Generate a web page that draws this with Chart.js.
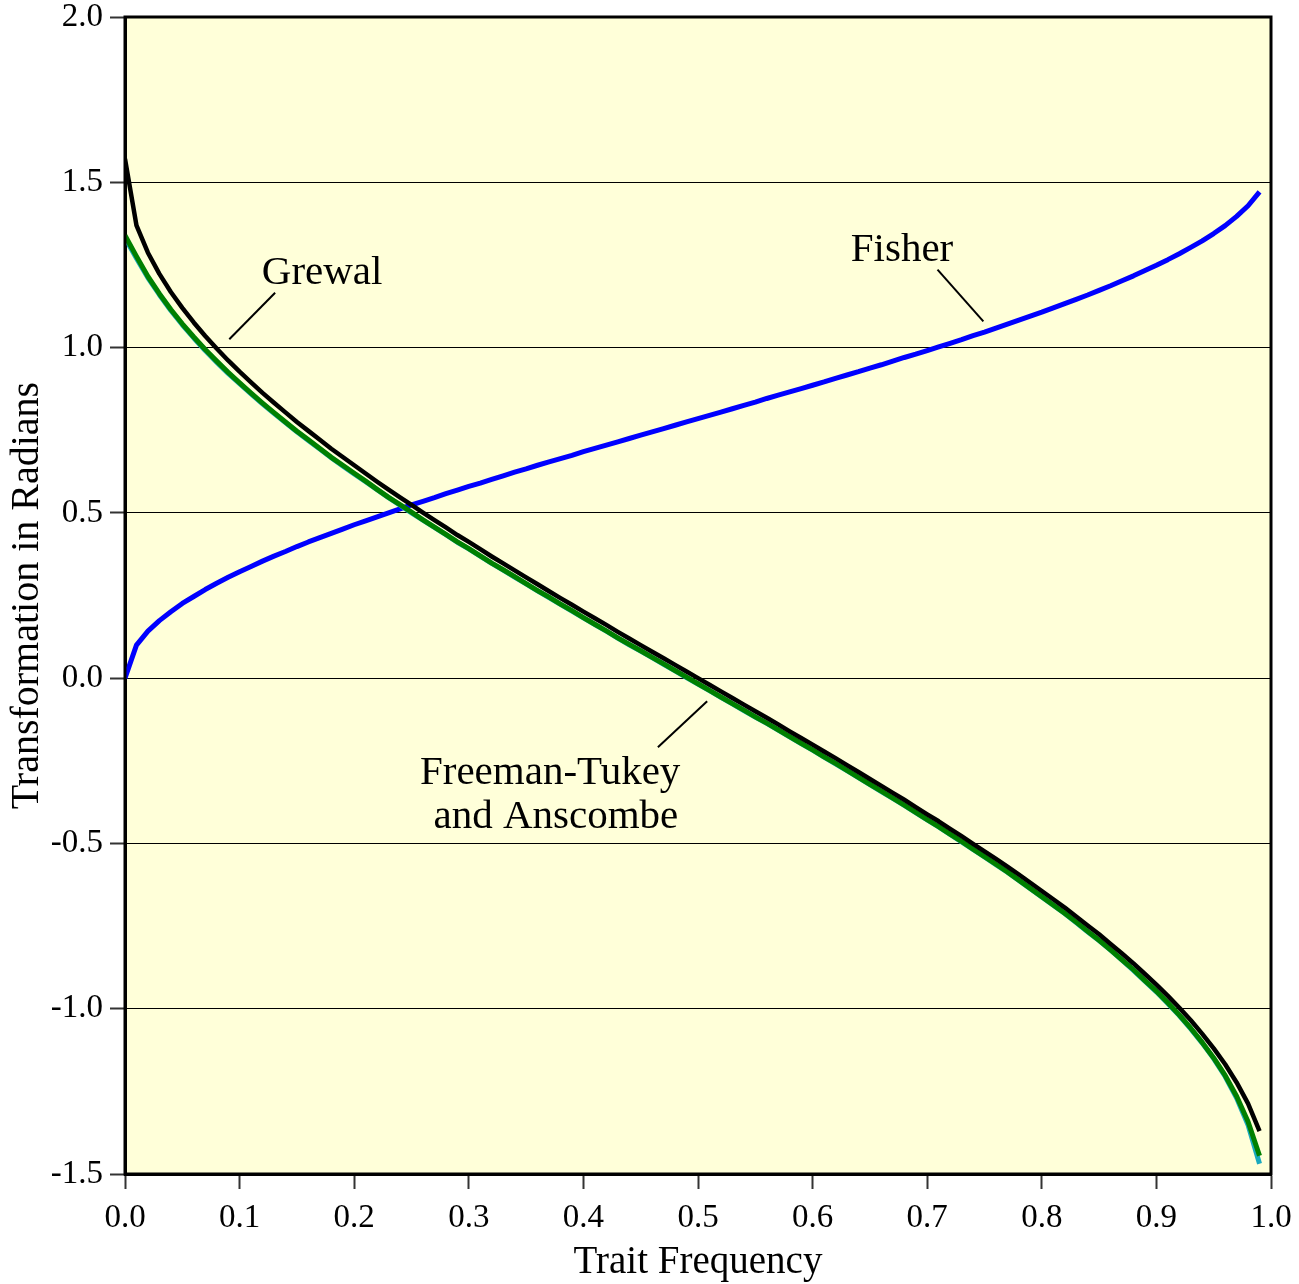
<!DOCTYPE html>
<html>
<head>
<meta charset="utf-8">
<title>Arcsine transformations of trait frequency</title>
<script src="https://cdn.jsdelivr.net/npm/chart.js@4.4.1/dist/chart.umd.min.js"></script>
<style>
  html, body { margin: 0; padding: 0; background: #ffffff; }
  canvas { display: block; }
</style>
</head>
<body>
<canvas id="chart" width="1299" height="1284"></canvas>
<script>
// Trait frequency (p) at which each transformation is evaluated
const frequency = [
  0.00, 0.01, 0.02, 0.03, 0.04, 0.05, 0.06, 0.07, 0.08, 0.09,
  0.10, 0.11, 0.12, 0.13, 0.14, 0.15, 0.16, 0.17, 0.18, 0.19,
  0.20, 0.21, 0.22, 0.23, 0.24, 0.25, 0.26, 0.27, 0.28, 0.29,
  0.30, 0.31, 0.32, 0.33, 0.34, 0.35, 0.36, 0.37, 0.38, 0.39,
  0.40, 0.41, 0.42, 0.43, 0.44, 0.45, 0.46, 0.47, 0.48, 0.49,
  0.50, 0.51, 0.52, 0.53, 0.54, 0.55, 0.56, 0.57, 0.58, 0.59,
  0.60, 0.61, 0.62, 0.63, 0.64, 0.65, 0.66, 0.67, 0.68, 0.69,
  0.70, 0.71, 0.72, 0.73, 0.74, 0.75, 0.76, 0.77, 0.78, 0.79,
  0.80, 0.81, 0.82, 0.83, 0.84, 0.85, 0.86, 0.87, 0.88, 0.89,
  0.90, 0.91, 0.92, 0.93, 0.94, 0.95, 0.96, 0.97, 0.98, 0.99
];

// Fisher angular transformation (radians)
const fisher = [
  0.000, 0.100, 0.142, 0.174, 0.201, 0.226, 0.247, 0.268, 0.287, 0.305,
  0.322, 0.338, 0.354, 0.369, 0.383, 0.398, 0.412, 0.425, 0.438, 0.451,
  0.464, 0.476, 0.488, 0.500, 0.512, 0.524, 0.535, 0.546, 0.558, 0.569,
  0.580, 0.590, 0.601, 0.612, 0.623, 0.633, 0.644, 0.654, 0.664, 0.674,
  0.685, 0.695, 0.705, 0.715, 0.725, 0.735, 0.745, 0.755, 0.765, 0.775,
  0.785, 0.795, 0.805, 0.815, 0.825, 0.835, 0.846, 0.856, 0.866, 0.876,
  0.886, 0.896, 0.907, 0.917, 0.927, 0.938, 0.948, 0.959, 0.970, 0.980,
  0.991, 1.002, 1.013, 1.024, 1.036, 1.047, 1.059, 1.071, 1.083, 1.095,
  1.107, 1.120, 1.133, 1.146, 1.159, 1.173, 1.187, 1.202, 1.217, 1.233,
  1.249, 1.266, 1.284, 1.303, 1.323, 1.345, 1.369, 1.397, 1.429, 1.471
];

// Grewal transformation (radians)
const grewal = [
  1.571, 1.370, 1.287, 1.223, 1.168, 1.120, 1.076, 1.035, 0.997, 0.961,
  0.927, 0.895, 0.863, 0.833, 0.804, 0.775, 0.748, 0.721, 0.694, 0.669,
  0.644, 0.619, 0.594, 0.570, 0.547, 0.524, 0.501, 0.478, 0.456, 0.433,
  0.412, 0.390, 0.368, 0.347, 0.326, 0.305, 0.284, 0.263, 0.242, 0.222,
  0.201, 0.181, 0.161, 0.140, 0.120, 0.100, 0.080, 0.060, 0.040, 0.020,
  0.000, -0.020, -0.040, -0.060, -0.080, -0.100, -0.120, -0.140, -0.161, -0.181,
  -0.201, -0.222, -0.242, -0.263, -0.284, -0.305, -0.326, -0.347, -0.368, -0.390,
  -0.412, -0.433, -0.456, -0.478, -0.501, -0.524, -0.547, -0.570, -0.594, -0.619,
  -0.644, -0.669, -0.694, -0.721, -0.748, -0.775, -0.804, -0.833, -0.863, -0.895,
  -0.927, -0.961, -0.997, -1.035, -1.076, -1.120, -1.168, -1.223, -1.287, -1.370
];

// Anscombe transformation (radians)
const anscombe = [
  1.339, 1.276, 1.215, 1.163, 1.115, 1.072, 1.032, 0.994, 0.959, 0.925,
  0.893, 0.862, 0.832, 0.803, 0.775, 0.747, 0.721, 0.695, 0.668, 0.644,
  0.620, 0.596, 0.571, 0.547, 0.525, 0.502, 0.479, 0.457, 0.435, 0.412,
  0.392, 0.370, 0.348, 0.328, 0.307, 0.286, 0.265, 0.245, 0.224, 0.204,
  0.183, 0.163, 0.143, 0.122, 0.102, 0.083, 0.063, 0.043, 0.023, 0.003,
  -0.017, -0.037, -0.057, -0.077, -0.097, -0.117, -0.136, -0.156, -0.177, -0.197,
  -0.217, -0.238, -0.258, -0.279, -0.300, -0.321, -0.342, -0.363, -0.384, -0.406,
  -0.428, -0.449, -0.472, -0.494, -0.517, -0.540, -0.563, -0.586, -0.611, -0.636,
  -0.661, -0.686, -0.711, -0.738, -0.766, -0.793, -0.822, -0.852, -0.882, -0.915,
  -0.947, -0.982, -1.019, -1.059, -1.102, -1.149, -1.202, -1.265, -1.342, -1.445
];

// Freeman-Tukey transformation (radians)
const freemanTukey = [
  1.332, 1.270, 1.211, 1.160, 1.112, 1.069, 1.029, 0.991, 0.956, 0.922,
  0.891, 0.860, 0.830, 0.801, 0.773, 0.745, 0.719, 0.693, 0.667, 0.642,
  0.618, 0.594, 0.570, 0.546, 0.523, 0.500, 0.478, 0.456, 0.434, 0.411,
  0.391, 0.369, 0.347, 0.327, 0.306, 0.285, 0.264, 0.244, 0.223, 0.203,
  0.182, 0.162, 0.142, 0.121, 0.101, 0.082, 0.062, 0.042, 0.022, 0.002,
  -0.018, -0.038, -0.058, -0.078, -0.098, -0.118, -0.137, -0.157, -0.178, -0.198,
  -0.218, -0.239, -0.259, -0.280, -0.301, -0.322, -0.343, -0.364, -0.385, -0.407,
  -0.429, -0.450, -0.473, -0.495, -0.518, -0.541, -0.564, -0.587, -0.612, -0.637,
  -0.662, -0.687, -0.712, -0.739, -0.767, -0.794, -0.823, -0.853, -0.884, -0.917,
  -0.949, -0.984, -1.021, -1.061, -1.104, -1.151, -1.205, -1.270, -1.352, -1.469
];

// Curve labels with their leader lines, in data units
const curveLabels = [
  { lines: ['Grewal'], x: 0.172, y: 1.191, from: [0.091, 1.025], to: [0.131, 1.166] },
  { lines: ['Fisher'], x: 0.678, y: 1.263, from: [0.709, 1.236], to: [0.749, 1.079] },
  { lines: ['Freeman-Tukey', 'and Anscombe'], x: 0.371, y: -0.320, dx: [0, 0.005],
    from: [0.465, -0.209], to: [0.508, -0.070] }
];

const toPoints = values => frequency.map((f, i) => ({ x: f, y: values[i] }));

const SERIF = '"Liberation Serif", "DejaVu Serif", serif';

const plotFrame = {
  id: 'plotFrame',
  beforeDraw(chart) {
    const { ctx, chartArea: a } = chart;
    ctx.save();
    ctx.fillStyle = '#FFFFD9';
    ctx.fillRect(a.left, a.top, a.right - a.left, a.bottom - a.top);
    ctx.restore();
  },
  afterDraw(chart) {
    const { ctx, chartArea: a, scales: { x, y } } = chart;
    ctx.save();
    // frame around the plotting area
    ctx.strokeStyle = '#000';
    ctx.lineWidth = 3;
    ctx.strokeRect(a.left, a.top, a.right - a.left, a.bottom - a.top);

    // curve labels and leader lines
    ctx.fillStyle = '#000';
    ctx.font = '41px ' + SERIF;
    ctx.textAlign = 'center';
    ctx.textBaseline = 'alphabetic';
    ctx.lineWidth = 2;
    curveLabels.forEach(l => {
      ctx.beginPath();
      ctx.moveTo(x.getPixelForValue(l.from[0]), y.getPixelForValue(l.from[1]));
      ctx.lineTo(x.getPixelForValue(l.to[0]), y.getPixelForValue(l.to[1]));
      ctx.stroke();
      l.lines.forEach((t, i) => {
        const off = l.dx ? l.dx[i] : 0;
        ctx.fillText(t, x.getPixelForValue(l.x + off), y.getPixelForValue(l.y) + i * 44);
      });
    });
    ctx.restore();
  }
};

new Chart(document.getElementById('chart'), {
  type: 'line',
  data: {
    datasets: [
      { label: 'Grewal', data: toPoints(grewal), borderColor: '#000000', borderWidth: 4.5 },
      { label: 'Anscombe', data: toPoints(anscombe), borderColor: '#008000', borderWidth: 5 },
      { label: 'Freeman-Tukey', data: toPoints(freemanTukey), borderColor: '#1AA9BE', borderWidth: 5 },
      { label: 'Fisher', data: toPoints(fisher), borderColor: '#0000FF', borderWidth: 5 }
    ]
  },
  options: {
    responsive: false,
    animation: false,
    events: [],
    layout: { padding: { top: 17, right: 28, left: 0, bottom: 0 } },
    elements: {
      point: { radius: 0 },
      line: { tension: 0, borderJoinStyle: 'round', fill: false }
    },
    plugins: { legend: { display: false }, tooltip: { enabled: false } },
    scales: {
      x: {
        type: 'linear',
        min: 0,
        max: 1,
        afterFit: s => { s.height = 110; s.paddingLeft = 0; s.paddingRight = 0; },
        border: { display: true, color: '#000', width: 3 },
        grid: { drawOnChartArea: false, drawTicks: true, tickLength: 15, tickColor: '#333', tickWidth: 2 },
        ticks: {
          stepSize: 0.1,
          maxRotation: 0,
          autoSkip: false,
          padding: 13,
          color: '#000',
          font: { family: SERIF, size: 33, lineHeight: 1 },
          callback: v => Number(v).toFixed(1)
        },
        title: {
          display: true,
          text: 'Trait Frequency',
          color: '#000',
          padding: { top: 0, bottom: 0 },
          font: { family: SERIF, size: 39, lineHeight: 1.1 }
        }
      },
      y: {
        type: 'linear',
        min: -1.5,
        max: 2.0,
        afterFit: s => { s.width = 125; s.paddingTop = 0; s.paddingBottom = 0; },
        border: { display: true, color: '#000', width: 3 },
        grid: { color: '#000', lineWidth: 1, drawTicks: true, tickLength: 15, tickColor: '#333', tickWidth: 2 },
        ticks: {
          stepSize: 0.5,
          padding: 7,
          color: '#000',
          font: { family: SERIF, size: 33, lineHeight: 1 },
          callback: v => Number(v).toFixed(1)
        },
        title: {
          display: true,
          text: 'Transformation in Radians',
          color: '#000',
          padding: { top: 3, bottom: 0 },
          font: { family: SERIF, size: 40 }
        }
      }
    }
  },
  plugins: [plotFrame]
});
</script>
</body>
</html>
